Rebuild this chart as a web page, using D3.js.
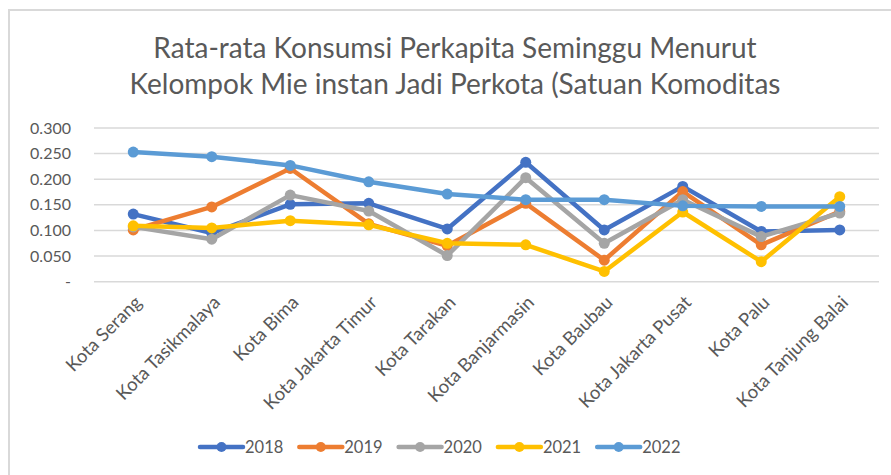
<!DOCTYPE html>
<html lang="en">
<head>
    <meta charset="UTF-8">
    <title>Rata-rata Konsumsi Perkapita Seminggu - Mie instan</title>
    <script src="https://d3js.org/d3.v7.min.js"></script>
    <style>
        body { margin: 0; background: #fff; }
        text { font-family: Lato, "Open Sans", sans-serif; fill: #595959; }
    </style>
</head>
<body>
    <svg width="891" height="475"></svg>
    <script>
        const width = 891, height = 475;

        const cities = ["Kota Serang", "Kota Tasikmalaya", "Kota Bima", "Kota Jakarta Timur", "Kota Tarakan",
            "Kota Banjarmasin", "Kota Baubau", "Kota Jakarta Pusat", "Kota Palu", "Kota Tanjung Balai"];
        const years = ["2018", "2019", "2020", "2021", "2022"];
        const v2018 = [0.132, 0.095, 0.151, 0.153, 0.103, 0.233, 0.101, 0.186, 0.098, 0.101];
        const v2019 = [0.101, 0.146, 0.221, 0.113, 0.070, 0.153, 0.042, 0.176, 0.072, 0.137];
        const v2020 = [0.107, 0.083, 0.169, 0.138, 0.051, 0.203, 0.075, 0.160, 0.088, 0.134];
        const v2021 = [0.109, 0.105, 0.119, 0.111, 0.075, 0.072, 0.020, 0.136, 0.039, 0.166];
        const v2022 = [0.253, 0.244, 0.227, 0.195, 0.171, 0.160, 0.160, 0.148, 0.147, 0.147];
        const yTicks = [0, 0.05, 0.1, 0.15, 0.2, 0.25, 0.3];
        const colors = ["#4472C4", "#ED7D31", "#A5A5A5", "#FFC000", "#5B9BD5"];

        const series = [v2018, v2019, v2020, v2021, v2022];

        const svg = d3.select("svg");

        // frame of the chart area
        svg.append("path")
            .attr("d", "M9,475 V10 H891")
            .attr("fill", "none")
            .attr("stroke", "#D9D9D9")
            .attr("stroke-width", 2);

        // title
        const title = svg.append("text")
            .attr("text-anchor", "middle")
            .style("font-size", "28px");
        title.append("tspan").attr("x", 455).attr("y", 58).text("Rata-rata Konsumsi  Perkapita Seminggu Menurut");
        title.append("tspan").attr("x", 455).attr("y", 94).text("Kelompok Mie instan Jadi Perkota (Satuan Komoditas");

        const x = d3.scaleBand().domain(cities).range([94, 879]);
        const y = d3.scaleLinear().domain([0, 0.3]).range([281.7, 128]);

        // grid
        svg.append("g")
            .selectAll("line")
            .data(yTicks)
            .join("line")
            .attr("x1", 94).attr("x2", 879)
            .attr("y1", d => y(d)).attr("y2", d => y(d))
            .attr("stroke", "#D9D9D9")
            .attr("stroke-width", 1.5);

        // y axis labels
        const yAxis = d3.axisLeft(y)
            .tickValues(yTicks)
            .tickSize(0)
            .tickPadding(0)
            .tickFormat(d => d === 0 ? "-" : d3.format(".3f")(d));
        const gy = svg.append("g").attr("transform", "translate(71,0)").call(yAxis);
        gy.select(".domain").remove();
        gy.selectAll("text").style("font-size", "16px").attr("font-family", null).attr("fill", null);

        // x axis labels
        const xAxis = d3.axisBottom(x).tickSize(0).tickPadding(0);
        const gx = svg.append("g").attr("transform", "translate(5,299)").call(xAxis);
        gx.select(".domain").remove();
        gx.selectAll("text")
            .style("font-size", "18.5px")
            .attr("font-family", null).attr("fill", null)
            .attr("text-anchor", "end")
            .attr("dy", "0.35em")
            .attr("y", 0)
            .attr("transform", "rotate(-45)");

        // lines
        const line = d3.line()
            .x((d, i) => x(cities[i]) + x.bandwidth() / 2)
            .y(d => y(d));

        series.forEach((vals, k) => {
            const g = svg.append("g");
            g.append("path")
                .datum(vals)
                .attr("d", line)
                .attr("fill", "none")
                .attr("stroke", colors[k])
                .attr("stroke-width", 4.5)
                .attr("stroke-linejoin", "round");
            g.selectAll("circle")
                .data(vals)
                .join("circle")
                .attr("cx", (d, i) => x(cities[i]) + x.bandwidth() / 2)
                .attr("cy", d => y(d))
                .attr("r", 5.5)
                .attr("fill", colors[k]);
        });

        // legend
        const legend = svg.append("g");
        years.forEach((yr, k) => {
            const lx = 200 + k * 99.3;
            const item = legend.append("g").attr("transform", `translate(${lx},447)`);
            item.append("line")
                .attr("x1", 0).attr("x2", 43)
                .attr("stroke", colors[k])
                .attr("stroke-width", 4.5)
                .attr("stroke-linecap", "round");
            item.append("circle").attr("cx", 21.5).attr("r", 5).attr("fill", colors[k]);
            item.append("text")
                .attr("x", 45).attr("dy", "0.35em")
                .style("font-size", "16.5px")
                .text(yr);
        });
    </script>
</body>
</html>
